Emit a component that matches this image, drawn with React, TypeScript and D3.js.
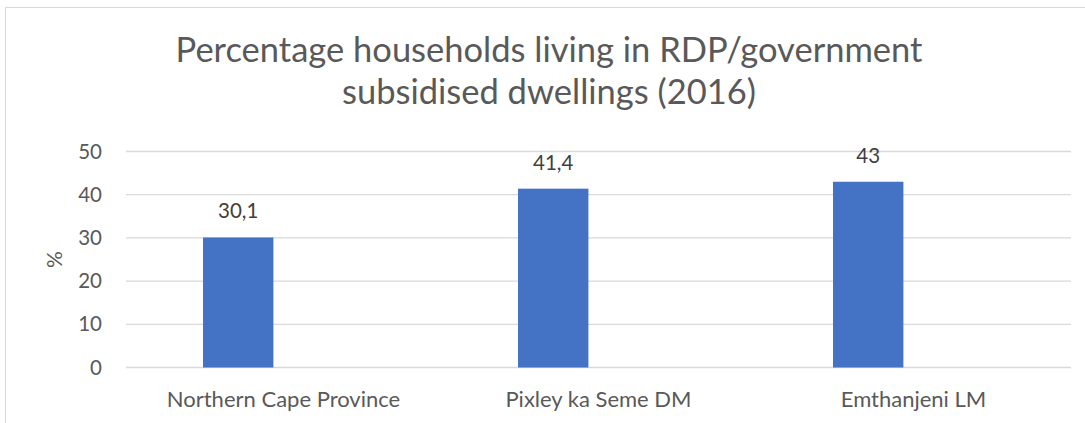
import React, { useEffect, useRef } from 'react'
import * as d3 from 'd3'

const categories = ['Northern Cape Province', 'Pixley ka Seme DM', 'Emthanjeni LM']
const values = [30.1, 41.4, 43]
const valueLabels = ['30,1', '41,4', '43']
// Excel chart has a second (empty) series slot, so bars sit left of the category centre
const seriesKeys = ['2016', 'empty']
const yTicks = [0, 10, 20, 30, 40, 50]
const titleLines = ['Percentage households living in RDP/government', 'subsidised dwellings (2016)']
const yAxisLabel = '%'

const WIDTH = 1085
const HEIGHT = 423
const FONT = 'Lato, "Open Sans", sans-serif'

export default function App() {
  const svgRef = useRef<SVGSVGElement>(null)

  useEffect(() => {
    if (!svgRef.current) return
    const svg = d3.select(svgRef.current)
    svg.selectAll('*').remove()

    // Plot area
    const left = 126
    const right = 1071
    const top = 151.5
    const bottom = 367.5

    // Chart border
    svg.append('rect')
      .attr('x', 5.5)
      .attr('y', 7.5)
      .attr('width', WIDTH + 20)
      .attr('height', HEIGHT + 20)
      .attr('fill', '#fff')
      .attr('stroke', '#d9d9d9')
      .attr('stroke-width', 1)

    // Scales
    const x0 = d3.scaleBand<string>()
      .domain(categories)
      .range([left, right])
      .paddingInner(0.489)
      .paddingOuter(0.2445)

    const x1 = d3.scaleBand<string>()
      .domain(seriesKeys)
      .range([0, x0.bandwidth()])
      .paddingInner(0.223)

    const y = d3.scaleLinear()
      .domain([0, 50])
      .range([bottom, top])

    // Title
    svg.append('text')
      .attr('x', 551)
      .attr('y', 62)
      .attr('text-anchor', 'middle')
      .attr('fill', '#595959')
      .style('font-family', FONT)
      .style('font-size', '34.5px')
      .selectAll('tspan')
      .data(titleLines)
      .enter()
      .append('tspan')
      .attr('x', 549)
      .attr('dy', (d, i) => (i === 0 ? 0 : 42))
      .text(d => d)

    // Grid lines
    svg.append('g')
      .selectAll('line')
      .data(yTicks)
      .enter()
      .append('line')
      .attr('x1', left)
      .attr('x2', right)
      .attr('y1', d => y(d))
      .attr('y2', d => y(d))
      .attr('stroke', '#d9d9d9')
      .attr('stroke-width', 1.3)

    // Y tick labels
    svg.append('g')
      .selectAll('text')
      .data(yTicks)
      .enter()
      .append('text')
      .attr('x', 102)
      .attr('y', d => y(d))
      .attr('dy', '0.35em')
      .attr('text-anchor', 'end')
      .attr('fill', '#595959')
      .style('font-family', FONT)
      .style('font-size', '20.5px')
      .text(d => d)

    // Y axis title
    svg.append('text')
      .attr('transform', `translate(62,${(top + bottom) / 2}) rotate(-90)`)
      .attr('text-anchor', 'middle')
      .attr('fill', '#595959')
      .style('font-family', FONT)
      .style('font-size', '21px')
      .text(yAxisLabel)

    // Bars
    const barX = (c: string) => (x0(c) as number) + (x1(seriesKeys[0]) as number)
    svg.append('g')
      .selectAll('rect')
      .data(categories)
      .enter()
      .append('rect')
      .attr('x', d => barX(d))
      .attr('width', x1.bandwidth())
      .attr('y', (d, i) => y(values[i]))
      .attr('height', (d, i) => y(0) - y(values[i]))
      .attr('fill', '#4472c4')

    // Data labels
    svg.append('g')
      .selectAll('text')
      .data(categories)
      .enter()
      .append('text')
      .attr('x', d => barX(d) + x1.bandwidth() / 2)
      .attr('y', (d, i) => y(values[i]) - 19)
      .attr('text-anchor', 'middle')
      .attr('fill', '#404040')
      .style('font-family', FONT)
      .style('font-size', '20.5px')
      .text((d, i) => valueLabels[i])

    // Category labels
    svg.append('g')
      .selectAll('text')
      .data(categories)
      .enter()
      .append('text')
      .attr('x', d => (x0(d) as number) + x0.bandwidth() / 2)
      .attr('y', 407)
      .attr('text-anchor', 'middle')
      .attr('fill', '#595959')
      .style('font-family', FONT)
      .style('font-size', '22px')
      .text(d => d)
  }, [])

  return (
    <svg
      ref={svgRef}
      width={WIDTH}
      height={HEIGHT}
      style={{ position: 'absolute', left: 0, top: 0, background: '#fff' }}
    />
  )
}
